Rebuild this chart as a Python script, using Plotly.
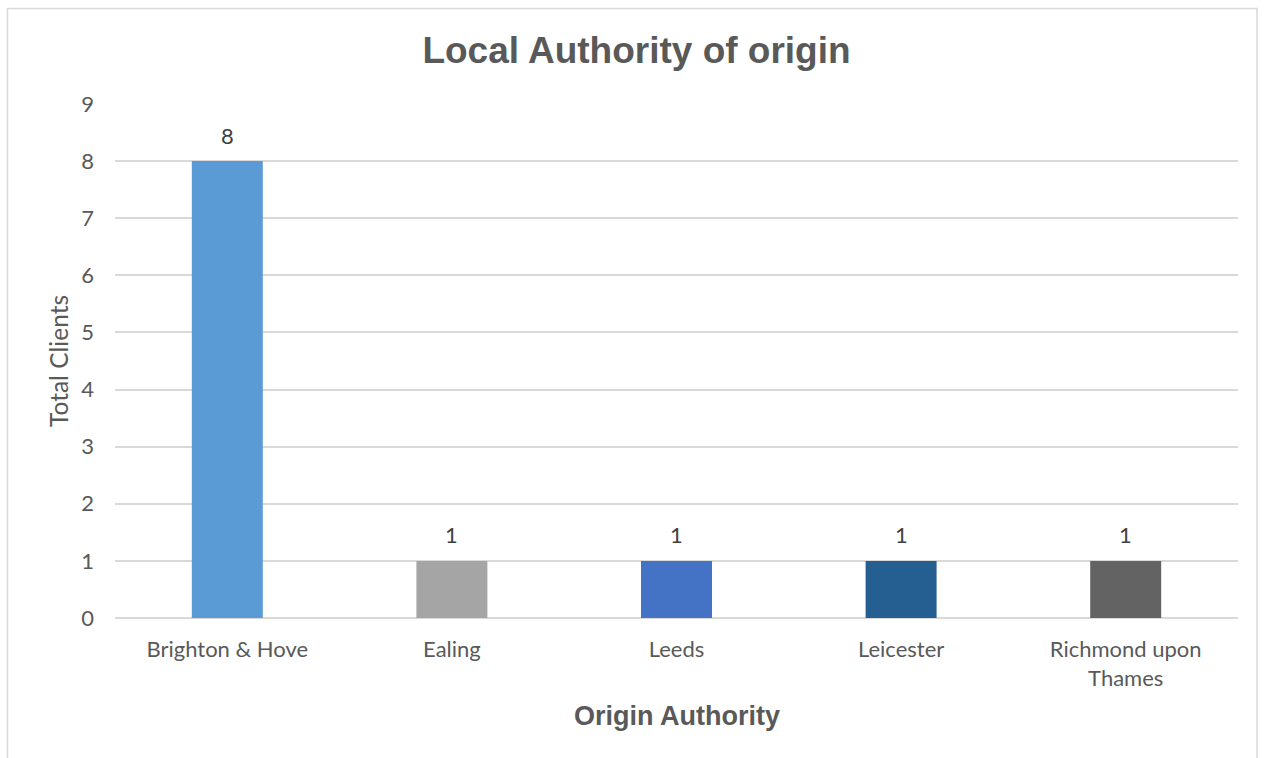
import plotly.graph_objects as go

# Client counts by originating local authority
authorities = ["Brighton & Hove", "Ealing", "Leeds", "Leicester", "Richmond upon<br>Thames"]
clients = [8, 1, 1, 1, 1]
bar_colors = ["#5B9BD5", "#A5A5A5", "#4472C4", "#255E91", "#636363"]
y_ticks = list(range(0, 10))

W, H = 1269, 758
L, R, T, B = 115, 31, 104, 140
pw, ph = W - L - R, H - T - B

def px_x(x):
    return (x - L) / pw

def px_y(y):
    return (H - B - y) / ph

text_font = "Lato, 'Noto Sans', sans-serif"
head_font = "'Liberation Sans', Arial, sans-serif"

fig = go.Figure(
    go.Bar(
        x=authorities,
        y=clients,
        marker=dict(color=bar_colors, line=dict(width=0)),
        width=0.316,
        hoverinfo="x+y",
    )
)

# value labels above each bar
for a, v in zip(authorities, clients):
    fig.add_annotation(
        x=a, y=v, text=str(v), showarrow=False, yshift=26,
        font=dict(family=text_font, size=22, color="#404040"),
    )

# axis titles
fig.add_annotation(
    xref="paper", yref="paper", x=0.5, y=px_y(716), text="<b>Origin Authority</b>",
    showarrow=False, xanchor="center", yanchor="middle",
    font=dict(family=head_font, size=27, color="#595959"),
)
fig.add_annotation(
    xref="paper", yref="paper", x=px_x(58), y=0.5, text="Total Clients",
    showarrow=False, textangle=-90, xanchor="center", yanchor="middle",
    font=dict(family=text_font, size=24.5, color="#595959"),
)

# chart frame
fig.add_shape(
    type="rect", xref="paper", yref="paper",
    x0=px_x(7.5), x1=px_x(1257), y0=px_y(790), y1=px_y(8.5),
    line=dict(color="#D9D9D9", width=1.5), fillcolor="rgba(0,0,0,0)", layer="below",
)

fig.update_layout(
    width=W, height=H,
    margin=dict(l=L, r=R, t=T, b=B),
    paper_bgcolor="white", plot_bgcolor="white",
    showlegend=False,
    title=dict(
        text="<b>Local Authority of origin</b>",
        x=636.5 / W, xref="container", xanchor="center",
        y=1 - 50 / H, yref="container", yanchor="middle",
        font=dict(family=head_font, size=37, color="#595959"),
    ),
    xaxis=dict(
        showgrid=False, showline=False, zeroline=False, ticks="",
        tickfont=dict(family=text_font, size=22, color="#595959"),
        ticklabelstandoff=16,
    ),
    yaxis=dict(
        range=[0, 9], tickvals=y_ticks, showgrid=True, gridcolor="#D9D9D9", gridwidth=1.5,
        zeroline=True, zerolinecolor="#D9D9D9", zerolinewidth=1.5, showline=False, ticks="",
        tickfont=dict(family=text_font, size=22, color="#595959"),
        ticklabelstandoff=20,
    ),
)

fig.write_html("out.html")
